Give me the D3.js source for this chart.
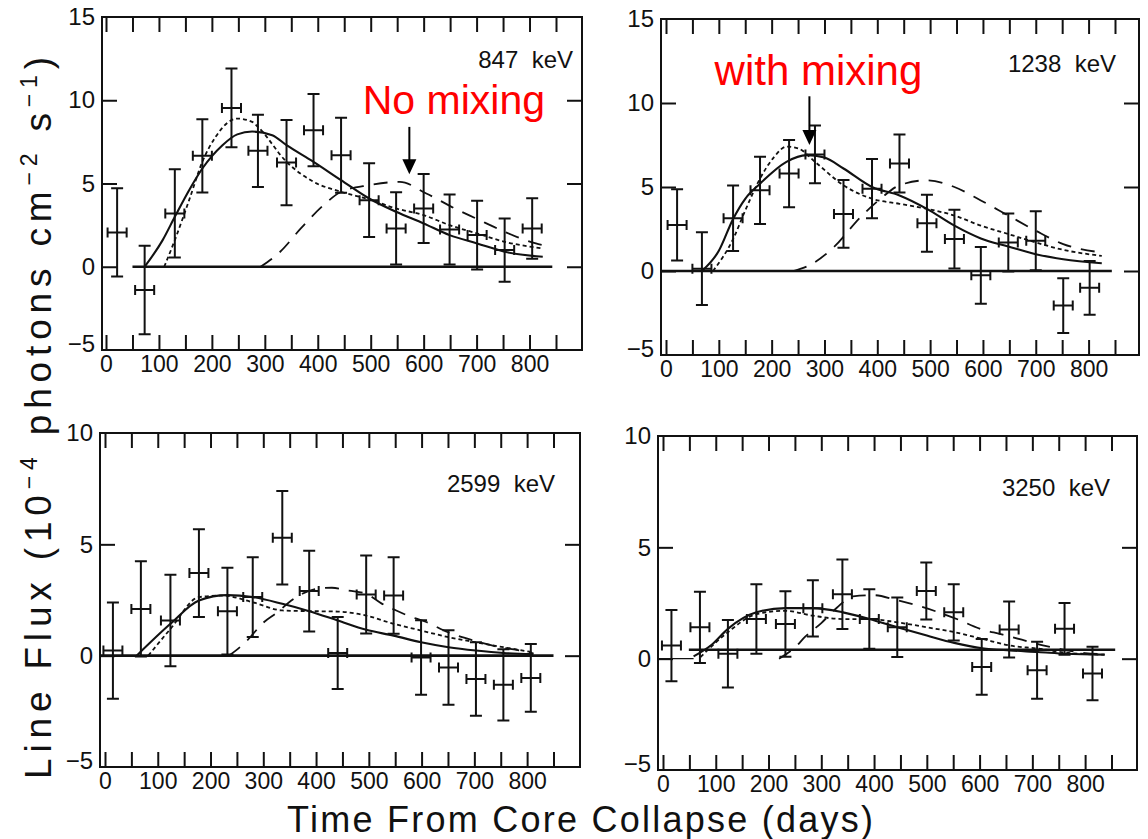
<!DOCTYPE html>
<html><head><meta charset="utf-8">
<script src="https://cdn.jsdelivr.net/npm/d3@7"></script>
<style>
body{margin:0;background:#fff}
svg{display:block}
text{font-family:"Liberation Sans",Arial,Helvetica,sans-serif;fill:#111}
</style>
</head><body>
<svg id="c" width="1148" height="839"></svg>
<script>
// ---------------- DATA ----------------
const xTickLabels = [0,100,200,300,400,500,600,700,800];
const minorTickDays = [0,50,100,150,200,250,300,350,400,450,500,550,600,650,700,750,800,850];
const yTicksTop = [-5,0,5,10,15];
const yTicksBottom = [-5,0,5,10];
const lineLabels = ["847  keV","1238  keV","2599  keV","3250  keV"];
const binHalfWidthDays = 18;

// 847 keV
const days847 = [21,73,130,182,237,287,341,392,444,497,548,600,649,701,753,805];
const flux847 = [2.06,-1.4,3.2,6.66,9.54,6.96,6.26,8.2,6.7,4.0,2.3,3.5,2.24,1.9,1.0,2.3];
const err847  = [2.65,2.66,2.65,2.2,2.37,2.17,2.56,2.17,2.25,2.21,2.17,2.07,2.1,2.07,1.9,1.82];
const solid847 = [[73,0],[107,1.6],[130,3.0],[157,4.6],[182,5.9],[220,7.3],[248,7.95],[276,8.12],[314,7.9],[341,7.3],[392,6.3],[444,5.2],[497,4.1],[548,3.3],[600,2.6],[649,1.9],[701,1.4],[753,0.9],[825,0.6]];
const short847 = [[110,0],[130,1.6],[157,4.0],[182,6.3],[207,7.8],[248,8.9],[276,8.7],[287,8.4],[341,6.3],[392,5.1],[444,4.5],[497,4.05],[548,3.5],[600,3.1],[649,2.5],[701,2.0],[753,1.5],[825,1.1]];
const long847  = [[292,0],[329,0.9],[368,2.3],[411,3.7],[444,4.5],[497,4.9],[555,5.1],[605,4.4],[659,3.5],[699,2.9],[753,2.1],[812,1.4],[825,1.3]];
const base847 = [50,843,0];

// 1238 keV
const days1238 = [21,68,127,178,233,282,336,390,442,494,546,596,648,700,752,802];
const flux1238 = [2.74,0.14,3.14,4.8,5.8,6.94,3.4,4.9,6.4,2.84,1.9,-0.26,1.7,1.8,-2.06,-1.0];
const err1238  = [2.12,2.16,1.95,2.0,2.0,1.72,2.02,1.76,1.73,1.7,1.75,1.69,1.73,1.75,1.63,1.6];
const solid1238 = [[68,0],[100,1.2],[127,3.1],[150,4.3],[178,5.2],[228,6.5],[266,6.9],[300,6.75],[336,6.1],[390,5.0],[442,4.5],[494,3.7],[546,2.7],[596,1.94],[648,1.46],[700,1.0],[752,0.7],[825,0.46]];
const short1238 = [[89,0],[127,1.9],[150,3.6],[178,5.5],[205,6.8],[228,7.4],[250,7.3],[282,6.5],[336,5.1],[390,4.3],[442,4.0],[494,3.7],[546,3.3],[596,2.7],[648,2.2],[700,1.7],[752,1.26],[825,0.9]];
const long1238  = [[241,0],[275,0.4],[317,1.4],[368,3.2],[406,4.3],[442,5.1],[494,5.4],[546,5.0],[596,4.2],[648,3.3],[700,2.4],[752,1.6],[825,1.1]];
const base1238 = [-8,844,0];

// 2599 keV
const days2599 = [15,68,124,178,232,280,336,387,441,495,547,599,651,703,755,807];
const flux2599 = [0.23,2.1,1.58,3.71,2.0,2.63,5.3,2.9,0.12,2.75,2.7,-0.08,-0.53,-1.05,-1.31,-1.0];
const err2599  = [2.16,2.14,2.05,1.97,1.95,1.79,2.1,1.81,1.62,1.75,1.72,1.67,1.67,1.65,1.6,1.52];
const solid2599 = [[60,0],[124,1.43],[178,2.48],[232,2.72],[280,2.63],[336,2.33],[387,2.0],[441,1.58],[495,1.16],[547,0.9],[599,0.6],[651,0.38],[703,0.23],[755,0.12],[812,0.07]];
const short2599 = [[82,0],[124,1.2],[178,2.63],[222,2.7],[280,2.4],[336,2.03],[387,2.0],[441,1.98],[495,1.8],[547,1.43],[599,1.13],[651,0.83],[703,0.6],[755,0.38],[812,0.15]];
const long2599  = [[235,0],[266,0.6],[301,1.5],[327,1.95],[349,2.4],[374,2.78],[400,3.0],[430,3.05],[462,2.92],[495,2.78],[523,2.36],[552,2.03],[574,1.8],[610,1.5],[650,1.05],[698,0.68],[748,0.38],[787,0.23],[812,0.1]];
const base2599 = [-9,850,0];

// 3250 keV
const days3250 = [16,70,123,177,232,284,340,391,444,499,551,604,656,709,761,814];
const flux3250 = [0.59,1.41,0.22,1.78,1.56,2.26,2.89,1.78,1.41,3.04,2.08,-0.37,1.31,-0.52,1.34,-0.67];
const err3250  = [1.6,1.6,1.52,1.56,1.47,1.26,1.56,1.34,1.34,1.28,1.26,1.25,1.26,1.28,1.16,1.2];
const solid3250 = [[58,0.1],[91,0.6],[123,1.34],[177,2.08],[232,2.27],[284,2.27],[341,2.08],[391,1.78],[444,1.41],[500,1.04],[552,0.71],[605,0.47],[657,0.37],[711,0.3],[764,0.22],[837,0.18]];
const short3250 = [[71,0.07],[123,1.19],[177,2.0],[232,2.15],[284,1.93],[341,1.78],[391,1.78],[444,1.63],[500,1.41],[552,1.19],[605,0.89],[657,0.59],[711,0.45],[764,0.27],[837,0.18]];
const long3250  = [[220,0],[250,0.5],[270,1.0],[300,1.6],[330,2.3],[360,2.8],[400,2.85],[440,2.65],[480,2.4],[520,2.1],[560,1.75],[600,1.35],[640,1.1],[680,0.85],[720,0.6],[760,0.4],[800,0.25],[837,0.2]];
const base3250 = [49,857,0.4];
const zeroStub3250 = [-9,58,0];

// ---------------- LAYOUT ----------------
const panels = [
  {days:days847, flux:flux847, err:err847, solid:solid847, sd:short847, ld:long847, base:base847, label:lineLabels[0],
   fr:{l:102,r:582,t:17,b:350}, x0:106, x850:556, yDom:[-5,15], yTicks:yTicksTop, labelEnd:573, labelBase:68},
  {days:days1238, flux:flux1238, err:err1238, solid:solid1238, sd:short1238, ld:long1238, base:base1238, label:lineLabels[1],
   fr:{l:661,r:1139,t:19,b:355}, x0:666, x850:1115, yDom:[-5,15], yTicks:yTicksTop, labelEnd:1116, labelBase:72},
  {days:days2599, flux:flux2599, err:err2599, solid:solid2599, sd:short2599, ld:long2599, base:base2599, label:lineLabels[2],
   fr:{l:100,r:580,t:433,b:767}, x0:105, x850:553.5, yDom:[-5,10], yTicks:yTicksBottom, labelEnd:555, labelBase:492},
  {days:days3250, flux:flux3250, err:err3250, solid:solid3250, sd:short3250, ld:long3250, base:base3250, stub:zeroStub3250, label:lineLabels[3],
   fr:{l:658,r:1137,t:436,b:770}, x0:663, x850:1111.5, yDom:[-5,10], yTicks:yTicksBottom, labelEnd:1110, labelBase:496}
];

const svg = d3.select("#c");
const fmt = d3.format("");
const INK = "#111";

panels.forEach((p, i) => {
  const g = svg.append("g");
  const x = d3.scaleLinear().domain([0,850]).range([p.x0, p.x850]);
  const y = d3.scaleLinear().domain(p.yDom).range([p.fr.b, p.fr.t]);
  p.x = x; p.y = y;

  // frame
  g.append("rect").attr("x",p.fr.l).attr("y",p.fr.t)
    .attr("width",p.fr.r-p.fr.l).attr("height",p.fr.b-p.fr.t)
    .attr("fill","none").attr("stroke",INK).attr("stroke-width",2);

  // top and bottom inward ticks
  const top = g.append("g").attr("transform",`translate(0,${p.fr.t})`)
    .call(d3.axisTop(x).tickValues(minorTickDays).tickSizeInner(-15).tickSizeOuter(0).tickFormat(""));
  const bot = g.append("g").attr("transform",`translate(0,${p.fr.b})`)
    .call(d3.axisBottom(x).tickValues(minorTickDays).tickSizeInner(-15).tickSizeOuter(0).tickFormat(""));
  [top,bot].forEach(a => { a.select(".domain").remove(); a.selectAll("line").attr("stroke",INK).attr("stroke-width",2); });

  // x tick labels
  const xl = g.append("g").attr("transform",`translate(0,${p.fr.b})`)
    .call(d3.axisBottom(x).tickValues(xTickLabels).tickSize(0).tickPadding(6).tickFormat(fmt));
  xl.select(".domain").remove();
  xl.selectAll("text").attr("font-size",23).attr("fill",INK);

  // y ticks left (with labels) & right
  const inner = p.yTicks.filter(v => v > p.yDom[0] && v < p.yDom[1]);
  const yl = g.append("g").attr("transform",`translate(${p.fr.l},0)`)
    .call(d3.axisLeft(y).tickValues(p.yTicks).tickSizeInner(-15).tickSizeOuter(0).tickPadding(7));
  yl.select(".domain").remove();
  yl.selectAll("line").attr("stroke",INK).attr("stroke-width",2)
    .attr("display", d => inner.includes(d) ? null : "none");
  yl.selectAll("text").attr("font-size",24).attr("fill",INK)
    .attr("transform", d => d === p.yDom[0] ? "translate(0,-6)" : null);
  const yr = g.append("g").attr("transform",`translate(${p.fr.r},0)`)
    .call(d3.axisRight(y).tickValues(inner).tickSizeInner(-15).tickSizeOuter(0).tickFormat(""));
  yr.select(".domain").remove();
  yr.selectAll("line").attr("stroke",INK).attr("stroke-width",2);

  // zero / baseline
  g.append("line").attr("x1",x(p.base[0])).attr("x2",x(p.base[1]))
    .attr("y1",y(p.base[2])).attr("y2",y(p.base[2]))
    .attr("stroke",INK).attr("stroke-width",2.6);
  if (p.stub) {
    g.append("line").attr("x1",x(p.stub[0])).attr("x2",x(p.stub[1]))
      .attr("y1",y(p.stub[2])).attr("y2",y(p.stub[2]))
      .attr("stroke",INK).attr("stroke-width",1.3);
  }

  // model curves
  const line = d3.line().x(d => x(d[0])).y(d => y(d[1])).curve(d3.curveMonotoneX);
  g.append("path").attr("d",line(p.ld)).attr("fill","none").attr("stroke",INK)
    .attr("stroke-width",1.8).attr("stroke-dasharray","14,10");
  g.append("path").attr("d",line(p.sd)).attr("fill","none").attr("stroke",INK)
    .attr("stroke-width",1.8).attr("stroke-dasharray","4,3");
  g.append("path").attr("d",line(p.solid)).attr("fill","none").attr("stroke",INK)
    .attr("stroke-width",2.1);

  // error bars
  const pts = p.days.map((d,k) => ({d, v:p.flux[k], e:p.err[k]}));
  const eb = g.append("g").attr("stroke",INK).attr("stroke-width",2).attr("fill","none");
  const capW = 6, capH = 5;
  pts.forEach(o => {
    const cx = x(o.d), cy = y(o.v), yt = y(o.v + o.e), yb = y(o.v - o.e);
    const xa = x(o.d - binHalfWidthDays), xb = x(o.d + binHalfWidthDays);
    eb.append("path").attr("d",
      `M${cx},${yt}V${yb}` +
      `M${cx-capW},${yt}H${cx+capW}M${cx-capW},${yb}H${cx+capW}` +
      `M${xa},${cy}H${xb}` +
      `M${xa},${cy-capH}V${cy+capH}M${xb},${cy-capH}V${cy+capH}`);
  });

  // line energy label
  g.append("text").attr("x",p.labelEnd).attr("y",p.labelBase)
    .attr("text-anchor","end").attr("font-size",24)
    .style("white-space","pre").attr("fill",INK).text(p.label);
});

// ---------------- ANNOTATIONS ----------------
function arrow(p, day, vFrom, vTo) {
  const xa = p.x(day), y1 = p.y(vFrom), y2 = p.y(vTo);
  svg.append("line").attr("x1",xa).attr("x2",xa).attr("y1",y1).attr("y2",y2-12)
    .attr("stroke","#000").attr("stroke-width",2);
  svg.append("path").attr("d",`M${xa-7},${y2-15}L${xa+7},${y2-15}L${xa},${y2}Z`).attr("fill","#000");
}
svg.append("text").attr("x",panels[0].x(485)).attr("y",panels[0].y(9.2))
  .attr("font-size",41).style("fill","#ff0000").text("No mixing");
arrow(panels[0], 573, 8.4, 5.56);
svg.append("text").attr("x",panels[1].x(92)).attr("y",panels[1].y(11.1))
  .attr("font-size",42).style("fill","#ff0000").text("with mixing");
arrow(panels[1], 271.5, 10.4, 7.5);

// ---------------- AXIS TITLES ----------------
const yt = svg.append("text").attr("transform","translate(51,418) rotate(-90)")
  .attr("text-anchor","middle").attr("font-size",37)
  .attr("textLength",722).attr("lengthAdjust","spacing");
yt.append("tspan").text("Line Flux (10");
yt.append("tspan").attr("dy",-14).attr("font-size",23).text("−4");
yt.append("tspan").attr("dy",14).text(" photons cm");
yt.append("tspan").attr("dy",-14).attr("font-size",23).text("−2");
yt.append("tspan").attr("dy",14).text(" s");
yt.append("tspan").attr("dy",-14).attr("font-size",23).text("−1");
yt.append("tspan").attr("dy",14).text(")");

svg.append("text").attr("x",580).attr("y",832).attr("text-anchor","middle")
  .attr("font-size",36).attr("textLength",586).attr("lengthAdjust","spacing")
  .text("Time From Core Collapse (days)");
</script>
</body></html>
